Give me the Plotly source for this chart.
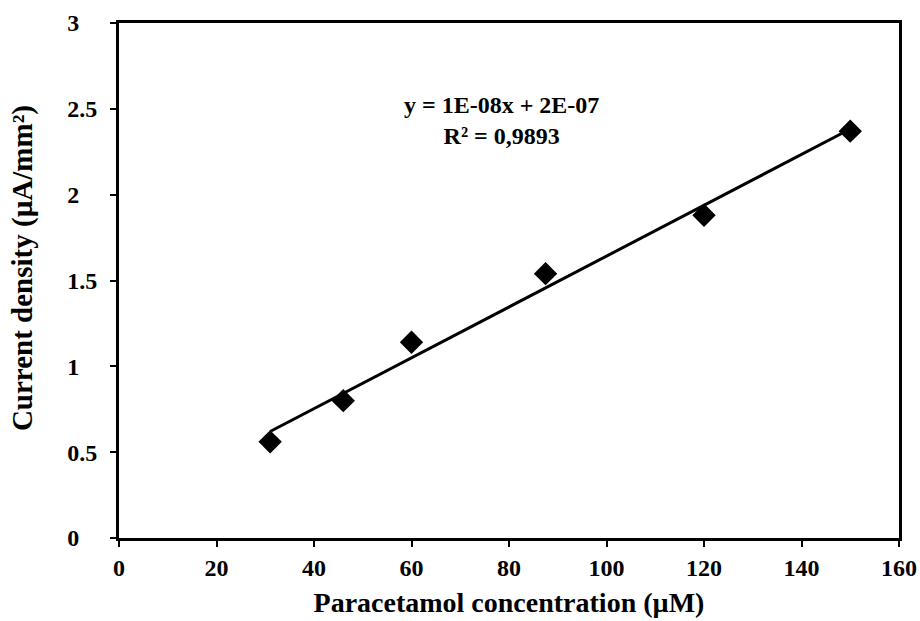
import numpy as np
import plotly.graph_objects as go

concentration = [31, 46, 60, 87.5, 120, 150]
current_density = [0.56, 0.80, 1.14, 1.54, 1.88, 2.37]
x_ticks = [0, 20, 40, 60, 80, 100, 120, 140, 160]
y_ticks = [0, 0.5, 1, 1.5, 2, 2.5, 3]
y_tick_text = ["0", "0.5", "1", "1.5", "2", "2.5", "3"]
equation_text = "y = 1E-08x + 2E-07<br>R² = 0,9893"
x_title = "Paracetamol concentration (µM)"
y_title = "Current density (µA/mm²)"

slope, intercept = np.polyfit(concentration, current_density, 1)
fit_x = [min(concentration), max(concentration)]
fit_y = [slope * v + intercept for v in fit_x]

# left-align the y tick labels (Excel style) by padding short labels
PAD = "\u2008\u2007"
padded_y_text = [t if "." in t else t + PAD for t in y_tick_text]

FONT = "Liberation Serif"

fig = go.Figure()
fig.add_trace(go.Scatter(x=fit_x, y=fit_y, mode="lines",
                         line=dict(color="black", width=3), showlegend=False))
fig.add_trace(go.Scatter(x=concentration, y=current_density, mode="markers",
                         marker=dict(symbol="diamond", size=18, color="black"),
                         showlegend=False))

fig.add_annotation(x=78.4, y=2.43, text="<b>" + equation_text + "</b>", showarrow=False,
                   font=dict(family=FONT, size=24, color="black"), align="center")

# y axis title, centred slightly above plot centre as in the reference
fig.add_annotation(xref="paper", yref="paper", x=-0.1244, y=0.524, text="<b>" + y_title + "</b>",
                   textangle=-90, showarrow=False, xanchor="center", yanchor="middle",
                   font=dict(family=FONT, size=29, color="black"))

fig.update_layout(
    width=920, height=621,
    margin=dict(l=119, r=21, t=23, b=83, autoexpand=False),
    paper_bgcolor="white", plot_bgcolor="white",
    font=dict(family=FONT, color="black"),
)
fig.update_xaxes(range=[0, 160], tickvals=x_ticks, ticks="outside", ticklen=6, tickwidth=1.5,
                 tickcolor="black", showline=True, linecolor="black", linewidth=3, mirror=True,
                 showgrid=False, zeroline=False, automargin=False,
                 tickfont=dict(family=FONT, size=24, color="black", weight="bold"),
                 title=dict(text="<b>" + x_title + "</b>",
                            font=dict(family=FONT, size=28, color="black"), standoff=13))
fig.update_yaxes(range=[0, 3], tickvals=y_ticks, ticktext=padded_y_text, ticks="outside", ticklen=6,
                 tickwidth=1.5, tickcolor="black", showline=True, linecolor="black", linewidth=3,
                 mirror=True, showgrid=False, zeroline=False, ticklabelstandoff=8, automargin=False,
                 tickfont=dict(family=FONT, size=24, color="black", weight="bold"))

fig.write_html("out.html")
